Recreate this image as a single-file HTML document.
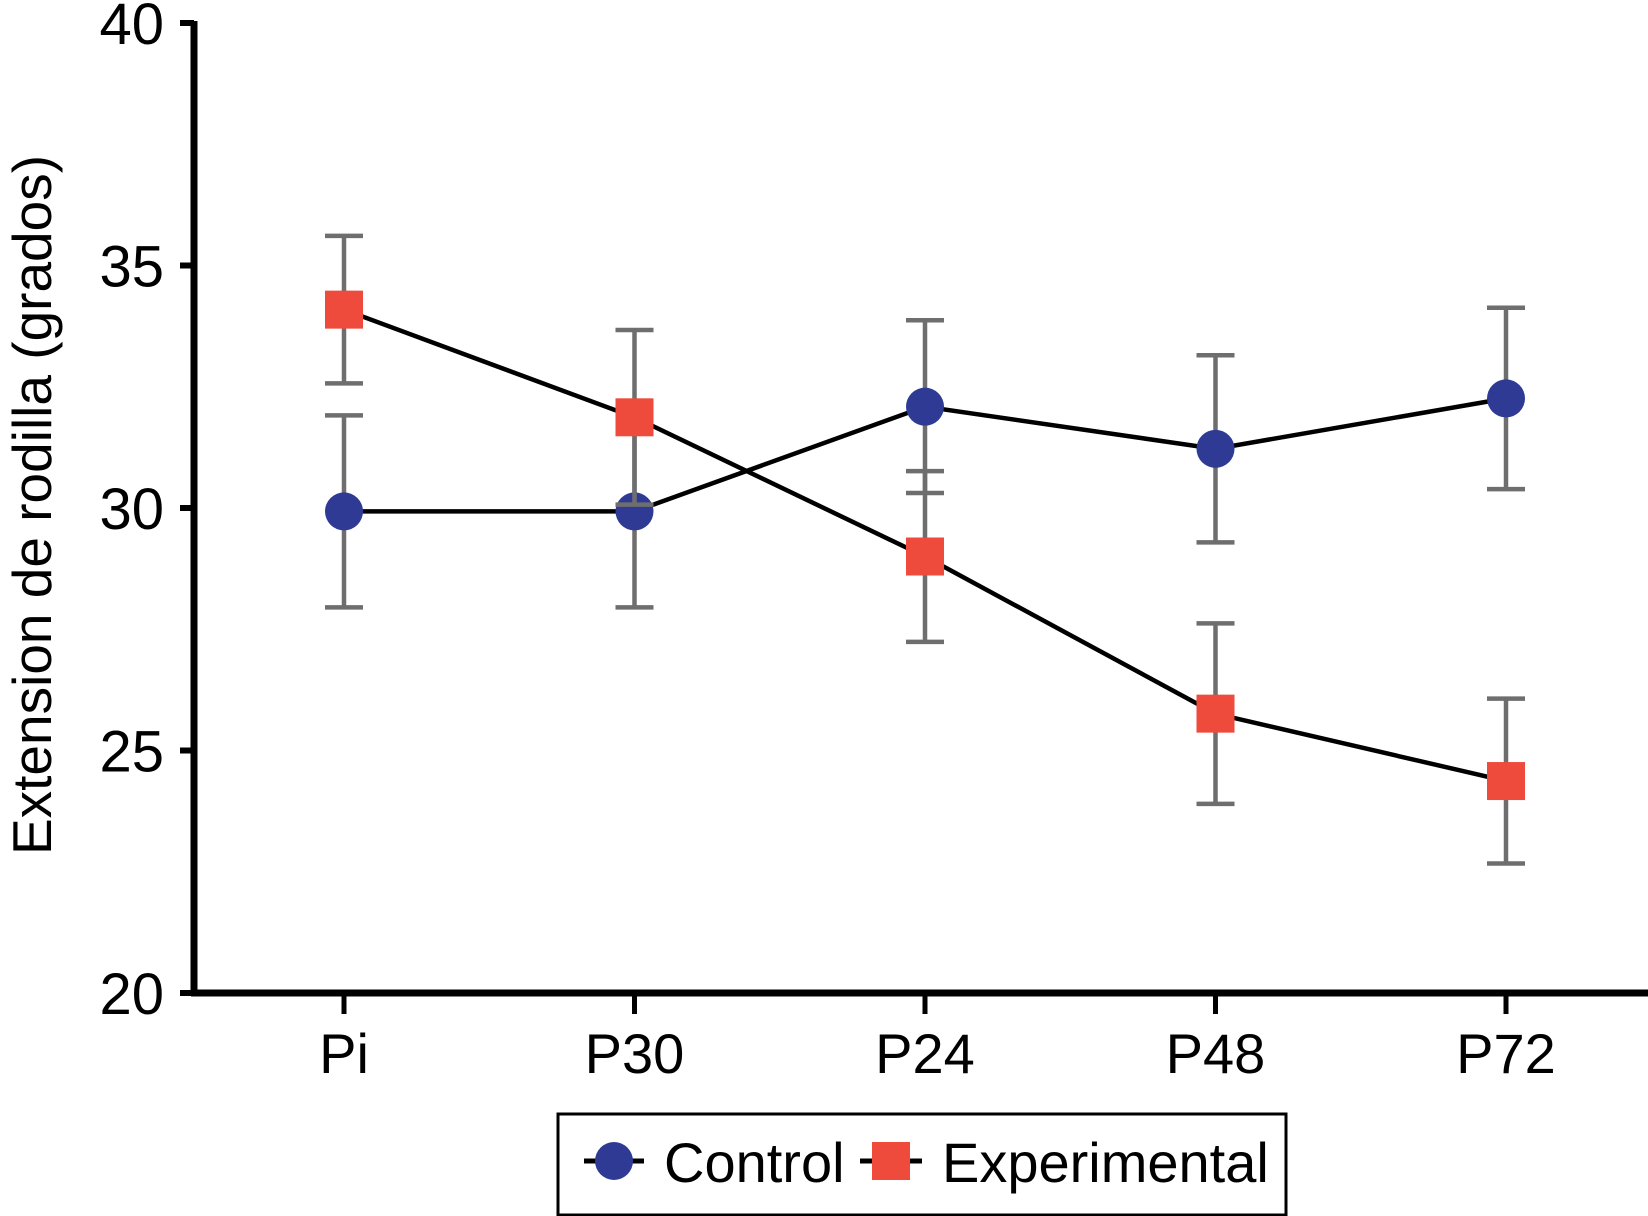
<!DOCTYPE html>
<html><head><meta charset="utf-8"><style>
html,body{margin:0;padding:0;background:#fff;}
svg{display:block;font-family:"Liberation Sans",Arial,sans-serif;}
</style></head><body>
<svg id="chart" width="1648" height="1216" viewBox="0 0 1648 1216" xmlns="http://www.w3.org/2000/svg">
<g id="axes"></g><g id="series"></g>
<g>
<rect x="558" y="1114" width="728" height="101" fill="#fff" stroke="#000" stroke-width="3"/>
<g>
<line x1="584" y1="1161" x2="644" y2="1161" stroke="#000" stroke-width="5"/>
<circle cx="614" cy="1161" r="19" fill="#2e3a94"/>
<text x="664" y="1182" font-size="56">Control</text></g>
<g>
<line x1="860" y1="1161" x2="922" y2="1161" stroke="#000" stroke-width="5"/>
<rect x="872" y="1142" width="38" height="38" fill="#ee4b3c"/>
<text x="942" y="1182" font-size="56">Experimental</text></g>
</g>
</svg>
<script>
const categories=["Pi","P30","P24","P48","P72"];
const controlValues=[29.93,29.93,32.09,31.22,32.26];
const controlErrors=[1.98,1.98,1.78,1.93,1.87];
const experimentalValues=[34.09,31.87,29.0,25.76,24.37];
const experimentalErrors=[1.52,1.8,1.76,1.86,1.7];
const yTicks=[20,25,30,35,40];
const NS="http://www.w3.org/2000/svg";
const X0=194,Y0=993,Y1=23;
function yScale(v){return Y0-(v-20)/(40-20)*(Y0-Y1);}
function xScale(i){return 344+i*290.5;}
function mk(tag,attrs,parent){const e=document.createElementNS(NS,tag);for(const k in attrs)e.setAttribute(k,attrs[k]);parent.appendChild(e);return e;}
const axes=document.getElementById('axes'),series=document.getElementById('series');
let e=mk('line',{x1:X0,y1:Y1-2,x2:X0,y2:Y0+3,stroke:'#000','stroke-width':7},axes);


e=mk('line',{x1:X0-3,y1:Y0,x2:1648,y2:Y0,stroke:'#000','stroke-width':7},axes);


yTicks.forEach(t=>{
 const y=yScale(t);
 let l=mk('line',{x1:X0-14,y1:y,x2:X0,y2:y,stroke:'#000','stroke-width':6},axes);
 
 
 let tx=mk('text',{x:164,y:y+21,'font-size':58,'text-anchor':'end'},axes);
 tx.textContent=t;
 
 
});
categories.forEach((c,i)=>{
 const x=xScale(i);
 let l=mk('line',{x1:x,y1:Y0,x2:x,y2:1014,stroke:'#000','stroke-width':5},axes);
 
 
 let tx=mk('text',{x:x,y:1073,'font-size':56,'text-anchor':'middle'},axes);
 tx.textContent=c;
 
 
});
let yt=mk('text',{x:0,y:0,'font-size':55,'text-anchor':'middle',transform:'translate(51,505) rotate(-90)'},axes);
yt.textContent='Extension de rodilla (grados)';


function drawSeries(vals,errs,name,color,shape){
 const g=mk('g',{},series);
 
 
 vals.forEach((v,i)=>{
  const x=xScale(i),hi=yScale(v+errs[i]),lo=yScale(v-errs[i]);
  const eb=mk('path',{d:`M${x},${hi}V${lo}M${x-19},${hi}H${x+19}M${x-19},${lo}H${x+19}`,stroke:'#6e6e6e','stroke-width':4.5,fill:'none'},g);
  
  
 });
 const pts=vals.map((v,i)=>xScale(i)+','+yScale(v)).join(' ');
 const pl=mk('polyline',{points:pts,fill:'none',stroke:'#000','stroke-width':4.5},g);
 
 
 vals.forEach((v,i)=>{
  const x=xScale(i),y=yScale(v);let m;
  if(shape==='circle')m=mk('circle',{cx:x,cy:y,r:19,fill:color},g);
  else m=mk('rect',{x:x-19,y:y-19,width:38,height:38,fill:color},g);
  
  
 });
}
drawSeries(controlValues,controlErrors,'control','#2e3a94','circle');
drawSeries(experimentalValues,experimentalErrors,'experimental','#ee4b3c','square');
</script>
</body></html>
